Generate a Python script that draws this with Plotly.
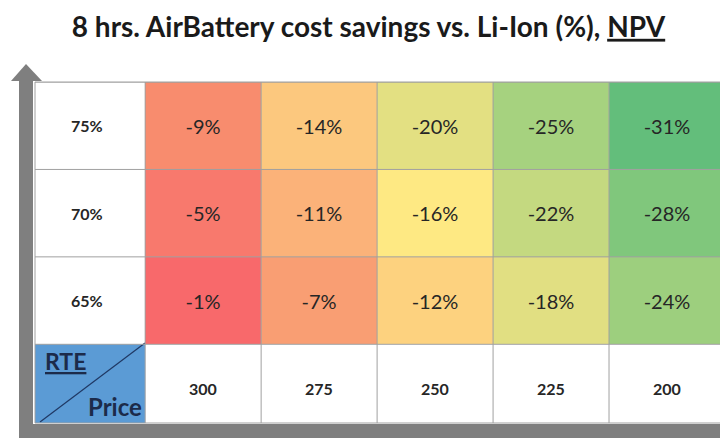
import plotly.graph_objects as go

# data
rte_labels = ["65%", "70%", "75%"]          # bottom to top
prices = ["300", "275", "250", "225", "200"]
savings = [
    [-1, -7, -12, -18, -24],   # 65%
    [-5, -11, -16, -22, -28],  # 70%
    [-9, -14, -20, -25, -31],  # 75%
]
# cell fill colours (red -> yellow -> green)
cell_colors = [
    ["#F8696B", "#F99E73", "#FDD27F", "#E1DF82", "#9DCF7E"],
    ["#F8796D", "#FBB279", "#FEE983", "#C4D980", "#80C77C"],
    ["#F88C6E", "#FCC87E", "#E3E082", "#A6D27F", "#63BE7B"],
]

W, H = 728, 442
OFF = 8  # body margin of the html page
# plot area in page pixels: x 35..725, y 82..423
L, T = 35 - OFF, 82 - OFF
R, B = W - (725 - OFF), H - (423 - OFF)
pw, ph = W - L - R, H - T - B


def px(x, y):
    # page pixel -> paper coords
    return (x - 35) / pw, (423 - y) / ph


xs = list(range(1, len(prices) + 1))
ys = list(range(1, len(rte_labels) + 1))

fig = go.Figure()
for y, vals, cols in zip(ys, savings, cell_colors):
    fig.add_trace(go.Bar(
        x=xs, y=[1] * len(xs), base=[y - 0.5] * len(xs), width=1,
        marker=dict(color=cols, line_width=0),
        text=[f"{v}%" for v in vals], textposition="inside", insidetextanchor="middle",
        textangle=0, textfont=dict(family="Lato", size=20, color="#262626"),
        hoverinfo="skip", showlegend=False,
    ))

shapes = []
# blue corner cell + diagonal
shapes.append(dict(type="rect", xref="x", yref="y", x0=-0.5, x1=0.5, y0=-0.5, y1=0.5,
                   fillcolor="#5B9BD5", line_width=0, layer="below"))
a, b = px(40, 422)
c, d = px(145, 343)
shapes.append(dict(type="line", xref="paper", yref="paper", x0=a, y0=b, x1=c, y1=d,
                   line=dict(color="#1F3864", width=1.2)))
# grid lines
for i in range(len(prices) + 1):
    shapes.append(dict(type="line", xref="x", yref="paper", x0=i + 0.5, x1=i + 0.5, y0=0, y1=1,
                       line=dict(color="#A0A0A0", width=1)))
for j in range(len(rte_labels) + 1):
    shapes.append(dict(type="line", xref="paper", yref="y", x0=0, x1=1, y0=j + 0.5, y1=j + 0.5,
                       line=dict(color="#A0A0A0", width=1)))
shapes.append(dict(type="rect", xref="paper", yref="paper", x0=0, x1=1, y0=0, y1=1,
                   line=dict(color="#A0A0A0", width=1)))

# gray axis arrows
gray = "#7F7F7F"
x0, y0 = px(19, 438); x1, y1 = px(33, 80)
shapes.append(dict(type="rect", xref="paper", yref="paper", x0=x0, x1=x1, y0=y0, y1=y1,
                   fillcolor=gray, line_width=0))
a, b = px(11, 81); c, d = px(26, 64); e, f = px(42, 81)
shapes.append(dict(type="path", xref="paper", yref="paper",
                   path=f"M {a} {b} L {c} {d} L {e} {f} Z", fillcolor=gray, line_width=0))
x0, y0 = px(19, 438); x1, y1 = px(740, 424)
shapes.append(dict(type="rect", xref="paper", yref="paper", x0=x0, x1=x1, y0=y0, y1=y1,
                   fillcolor=gray, line_width=0))

annotations = []
for y, lab in zip(ys, rte_labels):
    annotations.append(dict(x=0, y=y, xref="x", yref="y", text=f"<b>{lab}</b>", showarrow=False,
                            font=dict(family="Lato", size=16, color="#262626")))
for x, lab in zip(xs, prices):
    annotations.append(dict(x=x, y=0, xref="x", yref="y", text=f"<b>{lab}</b>", showarrow=False,
                            font=dict(family="Lato", size=16, color="#262626")))
rx, ry = px(43, 361)
annotations.append(dict(x=rx, y=ry, xref="paper", yref="paper", text="<b><u>RTE</u></b>",
                        showarrow=False, xanchor="left", yanchor="middle",
                        font=dict(family="Lato", size=23, color="#1C2B4A")))
qx, qy = px(144, 406)
annotations.append(dict(x=qx, y=qy, xref="paper", yref="paper", text="<b>Price</b>",
                        showarrow=False, xanchor="right", yanchor="middle",
                        font=dict(family="Lato", size=24, color="#1C2B4A")))

fig.update_layout(
    width=W, height=H,
    margin=dict(l=L, r=R, t=T, b=B),
    paper_bgcolor="white", plot_bgcolor="white",
    barmode="overlay", bargap=0,
    title=dict(text="8 hrs. AirBattery cost savings vs. Li-Ion (%), <u>NPV</u>",
               x=(368.5 - OFF) / W, xanchor="center", y=1 - (27 - OFF) / H, yanchor="middle",
               xref="container", yref="container",
               font=dict(family="Lato", size=28, color="#1a1a1a", weight="bold")),
    xaxis=dict(range=[-0.45, 5.5], visible=False, fixedrange=True),
    yaxis=dict(range=[-0.4, 3.5], visible=False, fixedrange=True),
    shapes=shapes, annotations=annotations,
)

fig.write_html("out.html")
